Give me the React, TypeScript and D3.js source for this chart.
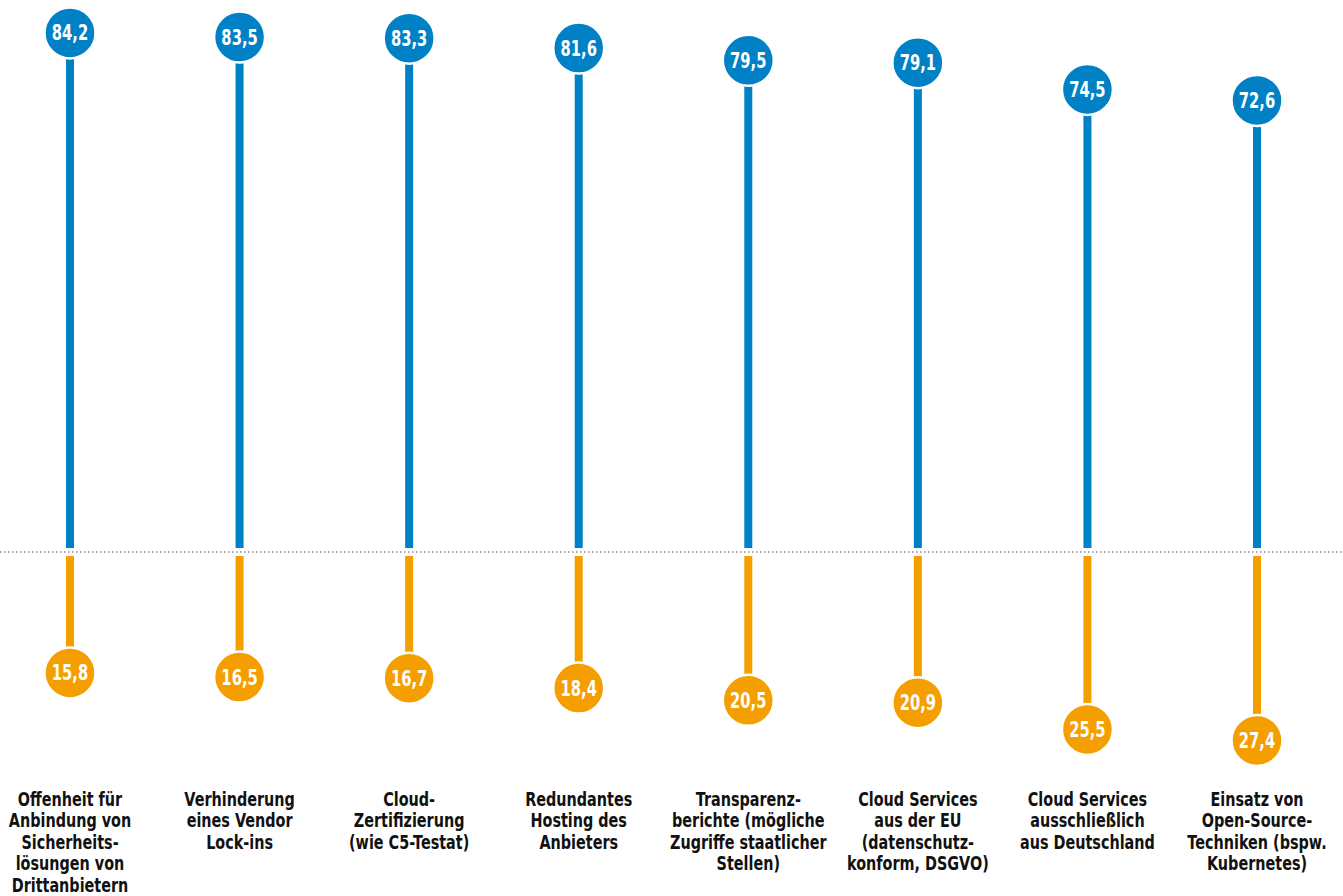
import React from "react";
import * as d3 from "d3";

const categories: string[][] = [
  ["Offenheit für", "Anbindung von", "Sicherheits-", "lösungen von", "Drittanbietern"],
  ["Verhinderung", "eines Vendor", "Lock-ins"],
  ["Cloud-", "Zertifizierung", "(wie C5-Testat)"],
  ["Redundantes", "Hosting des", "Anbieters"],
  ["Transparenz-", "berichte (mögliche", "Zugriffe staatlicher", "Stellen)"],
  ["Cloud Services", "aus der EU", "(datenschutz-", "konform, DSGVO)"],
  ["Cloud Services", "ausschließlich", "aus Deutschland"],
  ["Einsatz von", "Open-Source-", "Techniken (bspw.", "Kubernetes)"],
];
const blueValues = [84.2, 83.5, 83.3, 81.6, 79.5, 79.1, 74.5, 72.6];
const orangeValues = [15.8, 16.5, 16.7, 18.4, 20.5, 20.9, 25.5, 27.4];

const W = 1343;
const H = 896;
const BLUE = "#0081c6";
const ORANGE = "#f59e00";
const FONT = "'DejaVu Sans', sans-serif";
const SQ = 0.72;

export default function App() {
  const x = d3
    .scalePoint<number>()
    .domain(d3.range(categories.length))
    .range([70, 1257]);
  const s = d3.scaleLinear().domain([0, 100]).range([0, 582]);
  const baseY = 552;
  const offset = 29;
  const r = 25.5;
  const fmt = (v: number) => v.toFixed(1).replace(".", ",");

  return (
    <svg
      width={W}
      height={H}
      style={{ position: "absolute", left: 0, top: 0, background: "#fff" }}
      fontFamily={FONT}
    >
      <line x1={0} x2={W} y1={baseY} y2={baseY} stroke="#555" strokeWidth={1.2} strokeDasharray="1.5,2.5" />
      {categories.map((lines, i) => {
        const cx = x(i)!;
        const by = baseY - offset - s(blueValues[i]);
        const oy = baseY + offset + s(orangeValues[i]);
        return (
          <g key={i}>
            <rect x={cx - 4} y={by} width={8} height={baseY - 4 - by} fill={BLUE} />
            <circle cx={cx} cy={by} r={r} fill={BLUE} stroke="#fff" strokeWidth={2.5} />
            <g transform={`translate(${cx},0) scale(${SQ},1)`}>
              <text x={0} y={by + 7.5} textAnchor="middle" fill="#fff" fontSize={20.5} fontWeight="bold">
                {fmt(blueValues[i])}
              </text>
            </g>
            <rect x={cx - 4} y={baseY + 4} width={8} height={oy - baseY - 4} fill={ORANGE} />
            <circle cx={cx} cy={oy} r={r} fill={ORANGE} stroke="#fff" strokeWidth={2.5} />
            <g transform={`translate(${cx},0) scale(${SQ},1)`}>
              <text x={0} y={oy + 7.5} textAnchor="middle" fill="#fff" fontSize={20.5} fontWeight="bold">
                {fmt(orangeValues[i])}
              </text>
              <text x={0} y={806} textAnchor="middle" fill="#111" fontSize={20} fontWeight="bold">
                {lines.map((l, j) => (
                  <tspan key={j} x={0} dy={j === 0 ? 0 : 21.5}>
                    {l}
                  </tspan>
                ))}
              </text>
            </g>
          </g>
        );
      })}
    </svg>
  );
}
